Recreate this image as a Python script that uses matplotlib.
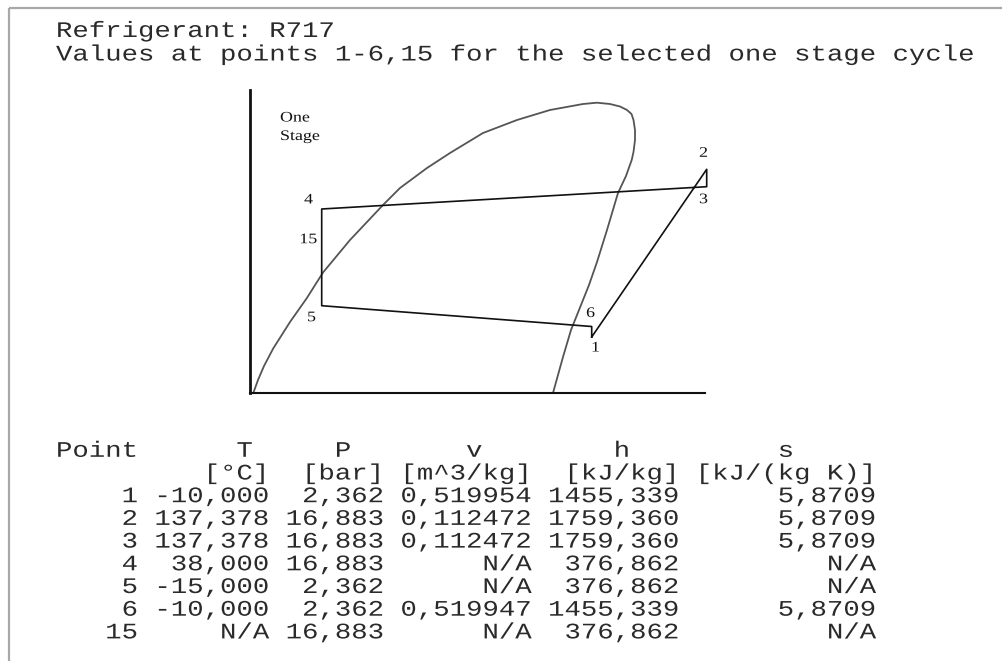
import matplotlib
matplotlib.use("Agg")
import matplotlib.pyplot as plt
from matplotlib.patheffects import AbstractPathEffect
from matplotlib.transforms import Affine2D

# ---------------- data ----------------
refrigerant = "R717"
subtitle = "Values at points 1-6,15 for the selected one stage cycle"

# saturation dome of the schematic diagram (diagram units)
dome_x = [3.3, 8, 14, 23.3, 40, 56.7, 73, 100, 133, 150, 177, 200, 233, 267, 300,
          333, 347, 360, 370, 377, 381.5, 383.5, 385, 385, 383.5, 381.7, 376, 368,
          357, 347, 339, 329, 321, 313, 303]
dome_y = [0, 13, 27, 44.7, 71, 94.7, 120.5, 153, 188, 205, 225, 240, 260, 273, 283,
          289, 290.3, 289, 286.5, 283, 279, 273, 263, 253, 241, 233, 217, 200,
          163, 131, 108, 83, 63, 36, 0]

# cycle state points of the schematic diagram (diagram units)
cycle_order = ["1", "2", "3", "4", "15", "5", "6", "1"]
state_x = {"1": 341.7, "2": 456.7, "3": 456.7, "4": 71.7, "15": 71.7, "5": 71.7, "6": 341.7}
state_y = {"1": 56.0, "2": 223.7, "3": 206.3, "4": 184.0, "15": 115.3, "5": 87.3, "6": 66.5}

# table values
points = ["1", "2", "3", "4", "5", "6", "15"]
T_C = [-10.000, 137.378, 137.378, 38.000, -15.000, -10.000, None]
P_bar = [2.362, 16.883, 16.883, 16.883, 2.362, 2.362, 16.883]
v_m3kg = [0.519954, 0.112472, 0.112472, None, None, 0.519947, None]
h_kJkg = [1455.339, 1759.360, 1759.360, 376.862, 376.862, 1455.339, 376.862]
s_kJkgK = [5.8709, 5.8709, 5.8709, None, None, 5.8709, None]

col_names = ["Point", "T", "P", "v", "h", "s"]
col_units = ["", "[°C]", "[bar]", "[m^3/kg]", "[kJ/kg]", "[kJ/(kg K)]"]


# horizontal stretch of rendered glyphs (the screenshot is stretched sideways)
class HStretch(AbstractPathEffect):
    def __init__(self, sx):
        super().__init__()
        self._sx = sx

    def draw_path(self, renderer, gc, tpath, affine, rgbFace=None):
        renderer.draw_path(gc, tpath, Affine2D().scale(self._sx, 1.0) + affine, rgbFace)


STRETCH = 1.23

# ---------------- figure ----------------
W, H = 1002, 661
fig = plt.figure(figsize=(W / 100, H / 100), dpi=100)
fig.patch.set_facecolor("white")

bg = fig.add_axes([0, 0, 1, 1])
bg.set_xlim(0, W)
bg.set_ylim(H, 0)
bg.axis("off")

# window frame (top and left edges)
bg.plot([9, W], [8, 8], color="#a8a8a8", lw=1.6, solid_capstyle="butt")
bg.plot([9, 9], [8, H], color="#a8a8a8", lw=1.6, solid_capstyle="butt")

mono = dict(family=["Liberation Mono", "DejaVu Sans Mono"], fontsize=16,
            color="#2a2a2a", ha="left", va="baseline",
            path_effects=[HStretch(STRETCH)])

bg.text(56, 37, f"Refrigerant: {refrigerant}", **mono)
bg.text(56, 60.5, subtitle, **mono)


def fmt(val, nd):
    if val is None:
        return "N/A"
    return f"{val:.{nd}f}".replace(".", ",")


widths = [5, 8, 7, 9, 9, 12]
header_cols = [0, 11, 17, 25, 34, 44]
header = ""
for name, c in zip(col_names, header_cols):
    header = header.ljust(c) + name
units = "".join(u.rjust(w) for u, w in zip(col_units, widths))

rows = []
for i, p in enumerate(points):
    cells = [p, fmt(T_C[i], 3), fmt(P_bar[i], 3), fmt(v_m3kg[i], 6),
             fmt(h_kJkg[i], 3), fmt(s_kJkgK[i], 4)]
    rows.append("".join(c.rjust(w) for c, w in zip(cells, widths)))

lines = [header, units] + rows
y0, dy = 456.8, 22.7
for k, line in enumerate(lines):
    bg.text(56, y0 + k * dy, line, **mono)

# ---------------- diagram ----------------
left, right, top, bottom = 250, 705, 90, 393
ax = fig.add_axes([left / W, (H - bottom) / H, (right - left) / W, (bottom - top) / H])
ax.set_xlim(0, right - left)
ax.set_ylim(0, bottom - top)
ax.set_facecolor("none")
for sp in ["top", "right"]:
    ax.spines[sp].set_visible(False)
ax.spines["left"].set_linewidth(2.0)
ax.spines["bottom"].set_linewidth(1.5)
ax.spines["left"].set_color("#111111")
ax.spines["bottom"].set_color("#111111")
ax.set_xticks([])
ax.set_yticks([])

ax.plot(dome_x, dome_y, color="#555555", lw=1.3, clip_on=False)
cx = [state_x[k] for k in cycle_order]
cy = [state_y[k] for k in cycle_order]
ax.plot(cx, cy, color="#111111", lw=1.2, clip_on=False)

serif = dict(family=["Liberation Serif", "DejaVu Serif"], fontsize=10.5, color="#111111",
             path_effects=[HStretch(STRETCH)])
ax.text(30, 275, "One", ha="left", va="center", **serif)
ax.text(30, 256.5, "Stage", ha="left", va="center", **serif)

label_offsets = {"1": (3, -11), "2": (-4, 16), "3": (-4, -13), "4": (-14, 9),
                 "15": (-15, 38), "5": (-11, -12), "6": (-2, 13)}
for name, (ox, oy) in label_offsets.items():
    ax.annotate(name, (state_x[name], state_y[name]), xytext=(ox, oy),
                textcoords="offset pixels", ha="center", va="center",
                annotation_clip=False, **serif)

fig.savefig("out.png", dpi=100, facecolor="white")
